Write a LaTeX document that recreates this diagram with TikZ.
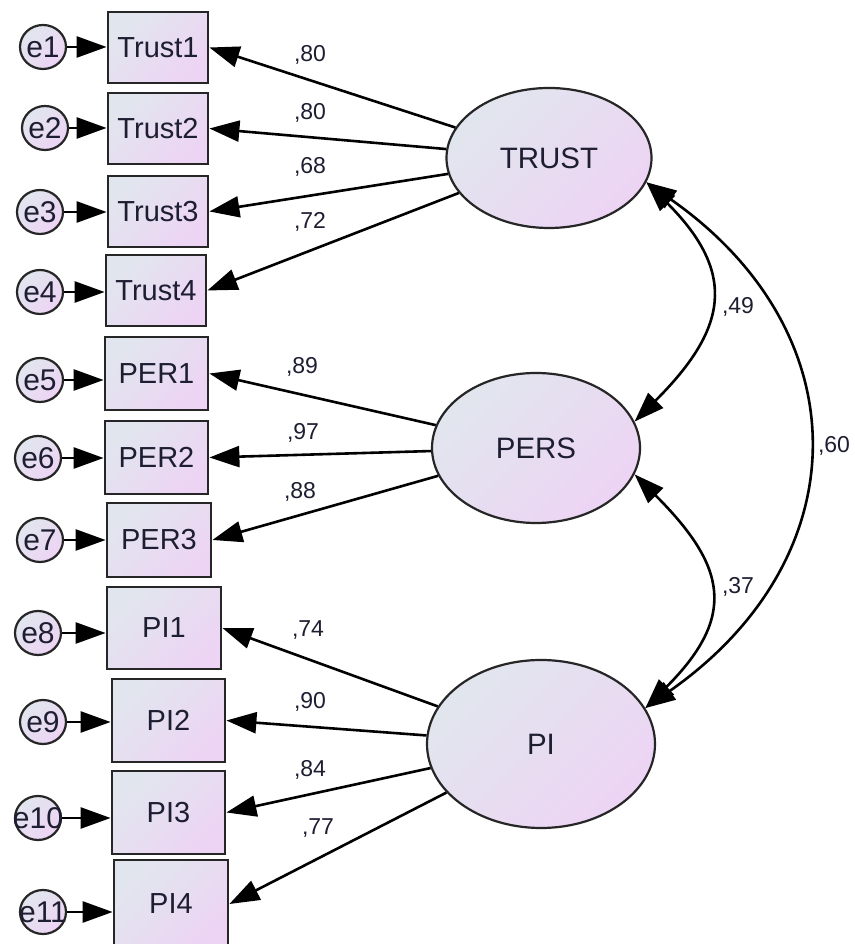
\documentclass[tikz,border=0pt]{standalone}
\usepackage{fontspec}
\setmainfont{Liberation Sans}
\usetikzlibrary{arrows.meta,shapes.geometric}
\definecolor{cA}{HTML}{E1E6EE}
\definecolor{cB}{HTML}{EDD4F4}
\definecolor{edgec}{HTML}{262626}
\definecolor{txt}{HTML}{1E1E32}
\begin{document}
\begin{tikzpicture}[x=1pt,y=1pt,
  fillgrad/.style={top color=cA, bottom color=cB, shading angle=45},
  obs/.style={rectangle, draw=edgec, line width=2.8pt, fillgrad, inner sep=0pt, text=txt, font=\fontsize{29}{31}\selectfont},
  err/.style={ellipse, draw=edgec, line width=2.2pt, fillgrad, inner sep=0pt, minimum width=46pt, minimum height=44pt, text=txt, font=\fontsize{30}{32}\selectfont},
  lat/.style={ellipse, draw=edgec, line width=2.2pt, fillgrad, inner sep=0pt, text=txt, font=\fontsize{29.5}{31}\selectfont},
  arr/.style={draw=black, line width=2.6pt, -{Triangle[length=30pt,width=21pt]}},
  darr/.style={draw=black, line width=2.6pt, {Triangle[length=30pt,width=21pt]}-{Triangle[length=30pt,width=21pt]}},
  lab/.style={text=txt, font=\fontsize{23}{25}\selectfont, inner sep=0pt}
]
\useasboundingbox (0,0) rectangle (854,944);
\fill[white] (0,0) rectangle (854,944);

% observed variables
\node[obs, minimum width=100pt, minimum height=71pt] (T1) at (158,896.5) {Trust1};
\node[obs, minimum width=100pt, minimum height=71pt] (T2) at (158,815.5) {Trust2};
\node[obs, minimum width=100pt, minimum height=71pt] (T3) at (158,732.5) {Trust3};
\node[obs, minimum width=100pt, minimum height=71pt] (T4) at (156,653.5) {Trust4};
\node[obs, minimum width=103pt, minimum height=73pt] (P1) at (156.5,570.5) {PER1};
\node[obs, minimum width=103pt, minimum height=73pt] (P2) at (156.5,486.5) {PER2};
\node[obs, minimum width=104pt, minimum height=74pt] (P3) at (159,404) {PER3};
\node[obs, minimum width=114pt, minimum height=82pt] (I1) at (164,316) {PI1};
\node[obs, minimum width=113pt, minimum height=83pt] (I2) at (168.5,223.5) {PI2};
\node[obs, minimum width=113pt, minimum height=83pt] (I3) at (168.5,131.5) {PI3};
\node[obs, minimum width=114pt, minimum height=88pt] (I4) at (171,40) {PI4};

% error terms
\node[err] (e1) at (43,897) {\makebox[0pt]{e1}};
\node[err] (e2) at (45,816) {\makebox[0pt]{e2}};
\node[err] (e3) at (40,732) {\makebox[0pt]{e3}};
\node[err] (e4) at (40,652) {\makebox[0pt]{e4}};
\node[err] (e5) at (40,564) {\makebox[0pt]{e5}};
\node[err] (e6) at (38,486) {\makebox[0pt]{e6}};
\node[err] (e7) at (40,404) {\makebox[0pt]{e7}};
\node[err] (e8) at (38,311) {\makebox[0pt]{e8}};
\node[err] (e9) at (43,222) {\makebox[0pt]{e9}};
\node[err] (e10) at (38,126) {\makebox[0pt]{e10}};
\node[err] (e11) at (43,32) {\makebox[0pt]{e11}};

% latent variables
\node[lat, minimum width=205pt, minimum height=140pt] (TRUST) at (549,786) {TRUST};
\node[lat, minimum width=208pt, minimum height=150pt] (PERS) at (536,496) {PERS};
\node[lat, minimum width=228pt, minimum height=168pt] (PI) at (541,200) {PI};

% error arrows
\draw[arr] (e1) -- (e1 -| T1.west);
\draw[arr] (e2) -- (e2 -| T2.west);
\draw[arr] (e3) -- (e3 -| T3.west);
\draw[arr] (e4) -- (e4 -| T4.west);
\draw[arr] (e5) -- (e5 -| P1.west);
\draw[arr] (e6) -- (e6 -| P2.west);
\draw[arr] (e7) -- (e7 -| P3.west);
\draw[arr] (e8) -- (e8 -| I1.west);
\draw[arr] (e9) -- (e9 -| I2.west);
\draw[arr] (e10) -- (e10 -| I3.west);
\draw[arr] (e11) -- (e11 -| I4.west);

% loadings
\draw[arr] (TRUST) -- (T1.east);
\draw[arr] (TRUST) -- (T2.east);
\draw[arr] (TRUST) -- (T3.east);
\draw[arr] (TRUST) -- (T4.east);
\draw[arr] (PERS) -- (P1.east);
\draw[arr] (PERS) -- (P2.east);
\draw[arr] (PERS) -- (P3.east);
\draw[arr] (PI) -- (I1.east);
\draw[arr] (PI) -- (I2.east);
\draw[arr] (PI) -- (I3.east);
\draw[arr] (PI) -- (I4.east);

% covariances
\draw[darr] (TRUST.-14) .. controls +(-45:130pt) and +(45:130pt) .. (PERS.15);
\draw[darr] (PERS.-15) .. controls +(-45:130pt) and +(45:130pt) .. (PI.19);
\draw[darr] (TRUST.-14) .. controls +(-35:262pt) and +(35:262pt) .. (PI.19);

% labels
\node[lab] (L1) at (310,889) {,80};
\node[lab] (L2) at (310,831) {,80};
\node[lab] (L3) at (310,777) {,68};
\node[lab] (L4) at (310,722) {,72};
\node[lab] (L5) at (302,577) {,89};
\node[lab] (L6) at (303,511) {,97};
\node[lab] (L7) at (300,452) {,88};
\node[lab] (L8) at (308,314) {,74};
\node[lab] (L9) at (310,242) {,90};
\node[lab] (L10) at (310,174) {,84};
\node[lab] (L11) at (318,116) {,77};
\node[lab] (C1) at (738,637) {,49};
\node[lab] (C2) at (738,357) {,37};
\node[lab] (C3) at (834,498) {,60};
\end{tikzpicture}
\end{document}
